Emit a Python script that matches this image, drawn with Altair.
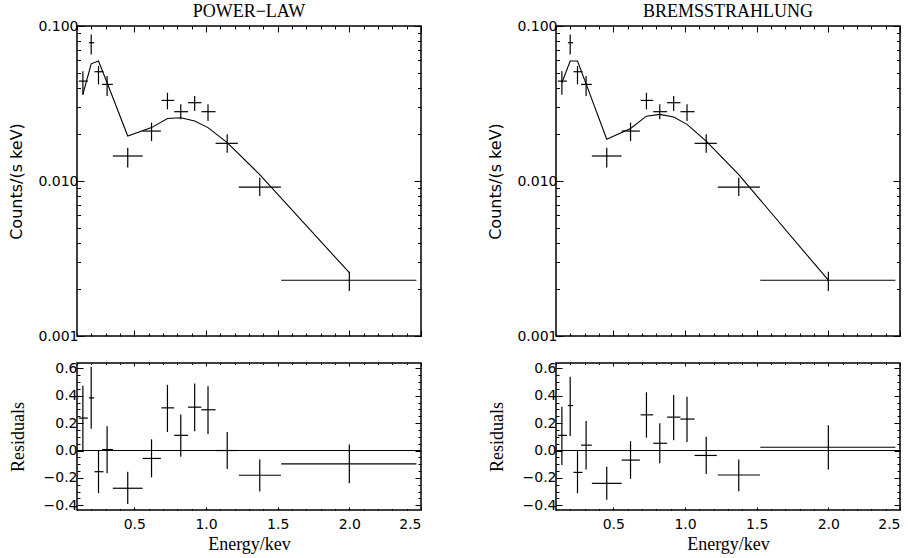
import altair as alt
import pandas as pd

# ---------------- data ----------------
energy = [0.141, 0.199, 0.250, 0.310, 0.454, 0.620, 0.731, 0.824, 0.921, 1.014, 1.148, 1.375, 2.000]
e_lo = [0.113, 0.183, 0.222, 0.275, 0.350, 0.558, 0.690, 0.778, 0.875, 0.968, 1.067, 1.229, 1.525]
e_hi = [0.176, 0.220, 0.285, 0.350, 0.558, 0.685, 0.778, 0.875, 0.968, 1.067, 1.222, 1.523, 2.468]

counts = [0.0441, 0.0780, 0.0507, 0.0420, 0.0145, 0.0210, 0.0331, 0.0280, 0.0320, 0.0280, 0.0175, 0.00914, 0.00229]
counts_lo = [0.0360, 0.0656, 0.0420, 0.0353, 0.0122, 0.0181, 0.0290, 0.0250, 0.0283, 0.0244, 0.0152, 0.0080, 0.00195]
counts_hi = [0.0510, 0.0883, 0.0552, 0.0476, 0.0164, 0.0238, 0.0371, 0.0313, 0.0353, 0.0313, 0.0200, 0.0105, 0.00260]

model_powerlaw = [0.0362, 0.0570, 0.0594, 0.0430, 0.0195, 0.0221, 0.0253, 0.0256, 0.0244, 0.0221, 0.0177, 0.0110, 0.00256]
model_brems = [0.0430, 0.0594, 0.0594, 0.0423, 0.0186, 0.0218, 0.0262, 0.0269, 0.0259, 0.0232, 0.0181, 0.0110, 0.00229]

resid_powerlaw = [0.237, 0.385, -0.155, 0.007, -0.276, -0.058, 0.312, 0.111, 0.317, 0.298, 0.000, -0.181, -0.097]
resid_powerlaw_lo = [-0.010, 0.160, -0.312, -0.167, -0.392, -0.196, 0.135, -0.046, 0.140, 0.119, -0.135, -0.300, -0.240]
resid_powerlaw_hi = [0.474, 0.612, 0.000, 0.177, -0.155, 0.082, 0.480, 0.264, 0.490, 0.470, 0.135, -0.065, 0.044]

resid_brems = [0.111, 0.329, -0.160, 0.039, -0.240, -0.070, 0.261, 0.053, 0.244, 0.230, -0.036, -0.179, 0.024]
resid_brems_lo = [-0.106, 0.106, -0.312, -0.138, -0.360, -0.208, 0.094, -0.094, 0.075, 0.063, -0.172, -0.298, -0.138]
resid_brems_hi = [0.320, 0.540, 0.000, 0.215, -0.119, 0.068, 0.426, 0.200, 0.406, 0.394, 0.100, -0.065, 0.184]

panel_titles = ["POWER\u2212LAW", "BREMSSTRAHLUNG"]

# axis tick positions
x_major = [0.5, 1.0, 1.5, 2.0, 2.5]
x_minor = [0.1, 0.2, 0.3, 0.4, 0.6, 0.7, 0.8, 0.9, 1.1, 1.2, 1.3, 1.4,
           1.6, 1.7, 1.8, 1.9, 2.1, 2.2, 2.3, 2.4]
ylog_major = [0.001, 0.01, 0.1]
ylog_minor = [0.002, 0.003, 0.004, 0.005, 0.006, 0.007, 0.008, 0.009,
              0.02, 0.03, 0.04, 0.05, 0.06, 0.07, 0.08, 0.09]
yres_major = [-0.4, -0.2, 0.0, 0.2, 0.4, 0.6]
yres_minor = [-0.35, -0.3, -0.25, -0.15, -0.1, -0.05, 0.05, 0.1, 0.15,
              0.25, 0.3, 0.35, 0.45, 0.5, 0.55]

# ---------------- styling ----------------
SANS = "DejaVu Sans"
SERIF = "Liberation Serif"
W = 344
H_TOP = 310
H_BOT = 147

xscale = alt.Scale(domain=[0.1, 2.5], nice=False, zero=False)
ylog_scale = alt.Scale(type="log", domain=[0.001, 0.1], nice=False)
yres_scale = alt.Scale(domain=[-0.435, 0.64], nice=False, zero=False)


def tick_axis(orient, values, size, **kw):
    """Axis with inward ticks only (no labels unless given)."""
    opts = dict(orient=orient, values=values,
                tickSize=alt.ExprRef(expr=str(-size)),
                tickColor="black", tickWidth=1, domain=False, grid=False,
                labels=False, title=None)
    opts.update(kw)
    return alt.Axis(**opts)


def top_panel(model, title):
    pts = pd.DataFrame({"energy": energy, "e_lo": e_lo, "e_hi": e_hi,
                        "counts": counts, "c_lo": counts_lo, "c_hi": counts_hi})
    mod = pd.DataFrame({"energy": energy, "model": model})

    hbars = alt.Chart(pts).mark_rule(color="black", strokeWidth=1.2).encode(
        x=alt.X("e_lo:Q", scale=xscale, axis=tick_axis("bottom", x_major, 6)),
        x2="e_hi:Q",
        y=alt.Y("counts:Q", scale=ylog_scale,
                axis=tick_axis("left", ylog_major, 7, labels=True, format=".3f",
                               labelPadding=6, labelFont=SANS, labelFontSize=14,
                               labelColor="black",
                               title="Counts/(s keV)", titleFont=SANS,
                               titleFontSize=16, titleFontWeight="normal",
                               titleColor="black", titlePadding=13)),
    )
    vbars = alt.Chart(pts).mark_rule(color="black", strokeWidth=1.2).encode(
        x=alt.X("energy:Q", scale=xscale, axis=tick_axis("bottom", x_minor, 3)),
        y=alt.Y("c_lo:Q", scale=ylog_scale, axis=tick_axis("left", ylog_minor, 3.5)),
        y2="c_hi:Q",
    )
    line = alt.Chart(mod).mark_line(color="black", strokeWidth=1.1).encode(
        x=alt.X("energy:Q", scale=xscale, axis=tick_axis("top", x_major, 6)),
        y=alt.Y("model:Q", scale=ylog_scale, axis=tick_axis("right", ylog_major, 7)),
    )
    ghost = alt.Chart(mod).mark_line(opacity=0).encode(
        x=alt.X("energy:Q", scale=xscale, axis=tick_axis("top", x_minor, 3)),
        y=alt.Y("model:Q", scale=ylog_scale, axis=tick_axis("right", ylog_minor, 3.5)),
    )
    return alt.layer(hbars, vbars, line, ghost).resolve_axis(
        x="independent", y="independent"
    ).properties(
        width=W, height=H_TOP,
        title=alt.TitleParams(text=title, font=SERIF, fontSize=18,
                              fontWeight="normal", color="black",
                              baseline="alphabetic", offset=-16, anchor="middle"),
    )


def bottom_panel(resid, rlo, rhi):
    pts = pd.DataFrame({"energy": energy, "e_lo": e_lo, "e_hi": e_hi,
                        "resid": resid, "r_lo": rlo, "r_hi": rhi})
    zero = pd.DataFrame({"zero": [0.0]})

    hbars = alt.Chart(pts).mark_rule(color="black", strokeWidth=1.2).encode(
        x=alt.X("e_lo:Q", scale=xscale,
                axis=tick_axis("bottom", x_major, 3, labels=True, format=".1f",
                               labelPadding=10, labelFont=SANS, labelFontSize=14,
                               labelColor="black",
                               title="Energy/kev", titleFont=SERIF,
                               titleFontSize=18, titleFontWeight="normal",
                               titleColor="black", titlePadding=4)),
        x2="e_hi:Q",
        y=alt.Y("resid:Q", scale=yres_scale,
                axis=tick_axis("left", yres_major, 6, labels=True, format=".1f",
                               labelPadding=6, labelFont=SANS, labelFontSize=14,
                               labelColor="black",
                               title="Residuals", titleFont=SERIF,
                               titleFontSize=18, titleFontWeight="normal",
                               titleColor="black", titlePadding=16)),
    )
    vbars = alt.Chart(pts).mark_rule(color="black", strokeWidth=1.2).encode(
        x=alt.X("energy:Q", scale=xscale, axis=tick_axis("bottom", x_minor, 1.5)),
        y=alt.Y("r_lo:Q", scale=yres_scale, axis=tick_axis("left", yres_minor, 3)),
        y2="r_hi:Q",
    )
    ghost1 = alt.Chart(pts).mark_rule(opacity=0).encode(
        x=alt.X("energy:Q", scale=xscale, axis=tick_axis("top", x_major, 3)),
        y=alt.Y("resid:Q", scale=yres_scale, axis=tick_axis("right", yres_major, 6)),
    )
    ghost2 = alt.Chart(pts).mark_rule(opacity=0).encode(
        x=alt.X("energy:Q", scale=xscale, axis=tick_axis("top", x_minor, 1.5)),
        y=alt.Y("resid:Q", scale=yres_scale, axis=tick_axis("right", yres_minor, 3)),
    )
    zline = alt.Chart(zero).mark_rule(color="black", strokeWidth=1.1).encode(
        y=alt.Y("zero:Q", scale=yres_scale, axis=None),
    )
    return alt.layer(hbars, vbars, ghost1, ghost2, zline).resolve_axis(
        x="independent", y="independent"
    ).properties(width=W, height=H_BOT)


left = alt.vconcat(top_panel(model_powerlaw, panel_titles[0]),
                   bottom_panel(resid_powerlaw, resid_powerlaw_lo, resid_powerlaw_hi),
                   spacing=27, bounds="flush")
right = alt.vconcat(top_panel(model_brems, panel_titles[1]),
                    bottom_panel(resid_brems, resid_brems_lo, resid_brems_hi),
                    spacing=27, bounds="flush")

chart = alt.hconcat(left, right, spacing=64).properties(
    padding={"left": 8, "top": 2, "right": 5, "bottom": 5},
    background="white",
).configure_view(stroke="black", strokeWidth=1.5)

chart.save("out.html", embed_options={"renderer": "svg", "actions": False})
